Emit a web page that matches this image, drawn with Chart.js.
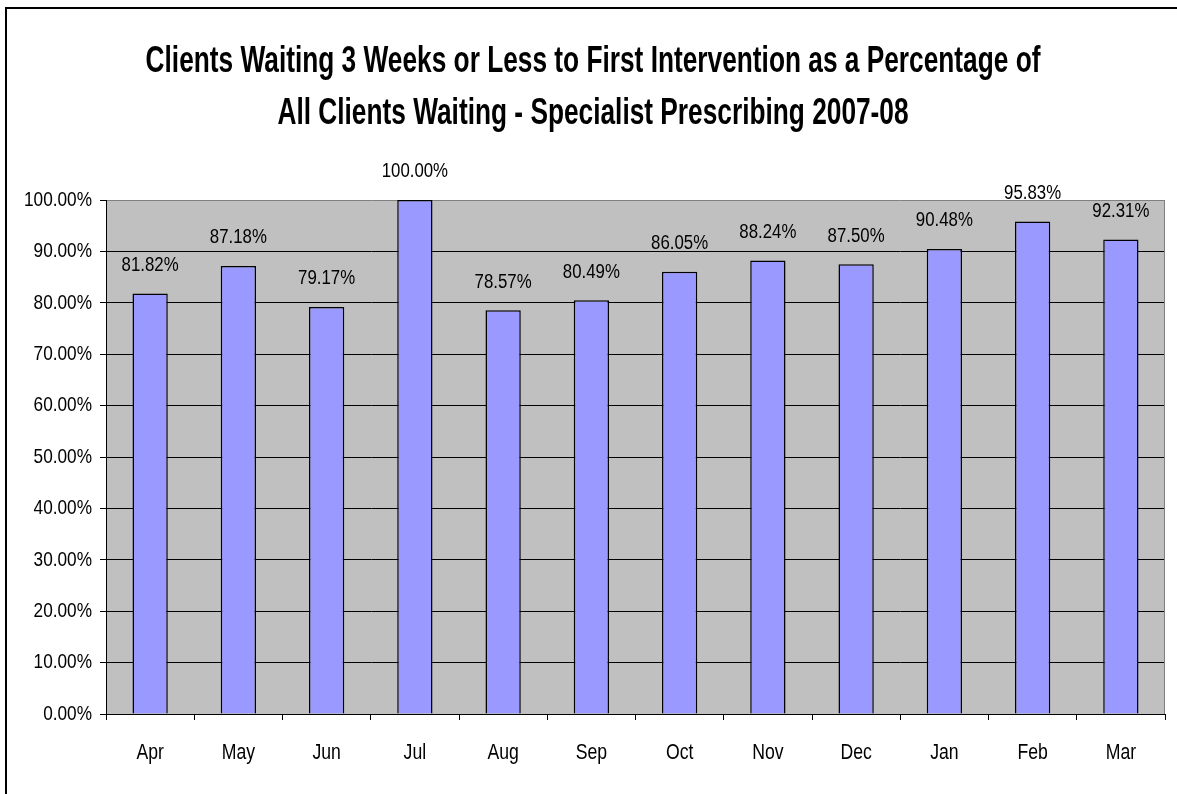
<!DOCTYPE html>
<html>
<head>
<meta charset="utf-8">
<script src="https://cdn.jsdelivr.net/npm/chart.js@4"></script>
<style>
  html, body { margin: 0; padding: 0; background: #fff; }
  #wrap { position: relative; width: 1177px; height: 794px; overflow: hidden; }
  #frame { position: absolute; left: 5px; top: 7px; width: 1300px; height: 900px; border: 2px solid #000; pointer-events: none; }
  canvas { position: absolute; left: 0; top: 0; }
</style>
</head>
<body>
<div id="wrap">
  <div id="frame"></div>
  <canvas id="c" width="1177" height="794"></canvas>
</div>
<script>
const months = ['Apr','May','Jun','Jul','Aug','Sep','Oct','Nov','Dec','Jan','Feb','Mar'];
const percentWaiting = [81.82, 87.18, 79.17, 100.00, 78.57, 80.49, 86.05, 88.24, 87.50, 90.48, 95.83, 92.31];
const titleLines = ['Clients Waiting 3 Weeks or Less to First Intervention as a Percentage of', 'All Clients Waiting - Specialist Prescribing 2007-08'];

const FONT = "'Liberation Sans Narrow', 'Arial Narrow', 'Liberation Sans', Arial, sans-serif";
// horizontal text compression to mimic the condensed Arial Narrow look
const narrowFor = font => /bold/.test(font) ? 0.71 : 0.82;

const canvas = document.getElementById('c');
const c2d = canvas.getContext('2d');
const origFill = c2d.fillText.bind(c2d);
const origMeasure = c2d.measureText.bind(c2d);
c2d.fillText = function (t, x, y, maxW) {
  const k = narrowFor(this.font);
  this.save();
  this.translate(x, y);
  this.scale(k, 1);
  origFill(t, 0, 0);
  this.restore();
};
c2d.measureText = function (t) {
  const k = narrowFor(this.font);
  const m = origMeasure(t);
  return {
    width: m.width * k,
    actualBoundingBoxAscent: m.actualBoundingBoxAscent,
    actualBoundingBoxDescent: m.actualBoundingBoxDescent,
    actualBoundingBoxLeft: m.actualBoundingBoxLeft * k,
    actualBoundingBoxRight: m.actualBoundingBoxRight * k,
    fontBoundingBoxAscent: m.fontBoundingBoxAscent,
    fontBoundingBoxDescent: m.fontBoundingBoxDescent
  };
};

const plotBg = {
  id: 'plotBg',
  beforeDraw(chart) {
    const {ctx, chartArea: a} = chart;
    ctx.save();
    ctx.fillStyle = '#C0C0C0';
    ctx.fillRect(a.left, a.top, a.right - a.left, a.bottom - a.top);
    ctx.restore();
  },
  afterDraw(chart) {
    const {ctx, chartArea: a} = chart;
    ctx.save();
    ctx.strokeStyle = '#808080';
    ctx.lineWidth = 1;
    ctx.beginPath();
    ctx.moveTo(a.right - 0.5, a.top);
    ctx.lineTo(a.right - 0.5, a.bottom);
    ctx.stroke();
    ctx.restore();
  }
};

const valueLabels = {
  id: 'valueLabels',
  afterDatasetsDraw(chart) {
    const {ctx} = chart;
    const meta = chart.getDatasetMeta(0);
    ctx.save();
    ctx.font = '20.5px ' + FONT;
    ctx.fillStyle = '#000';
    ctx.textAlign = 'center';
    ctx.textBaseline = 'bottom';
    meta.data.forEach((bar, i) => {
      ctx.fillText(percentWaiting[i].toFixed(2) + '%', bar.x, bar.y - 18);
    });
    ctx.restore();
  }
};

new Chart(canvas, {
  type: 'bar',
  data: {
    labels: months,
    datasets: [{
      data: percentWaiting,
      backgroundColor: '#9999FF',
      borderColor: '#000',
      borderWidth: 1.5,
      barPercentage: 0.4,
      categoryPercentage: 1.0
    }]
  },
  options: {
    responsive: false,
    animation: false,
    layout: { padding: { left: 21, right: 12, top: 0, bottom: 0 } },
    plugins: {
      legend: { display: false },
      tooltip: { enabled: false },
      title: {
        display: true,
        text: titleLines,
        color: '#000',
        font: { family: FONT, size: 37, weight: 'bold', lineHeight: '52px' },
        padding: { top: 36, bottom: 60 }
      }
    },
    scales: {
      x: {
        grid: { display: true, drawOnChartArea: false, drawTicks: true, tickLength: 6, tickColor: '#000', offset: true },
        border: { color: '#000', width: 1 },
        ticks: { color: '#000', font: { family: FONT, size: 21.5 }, padding: 20 },
        afterFit(scale) { scale.height = 80; }
      },
      y: {
        min: 0, max: 100,
        ticks: { stepSize: 10, color: '#000', font: { family: FONT, size: 21 }, padding: 8,
          callback: v => v.toFixed(2) + '%' },
        grid: {
          color: ctx => (ctx.tick && ctx.tick.value === 100) ? '#808080' : '#000',
          tickColor: '#000', tickLength: 6, lineWidth: 1
        },
        border: { color: '#000', width: 1 },
        afterFit(scale) { scale.width = 85; }
      }
    }
  },
  plugins: [plotBg, valueLabels]
});
</script>
</body>
</html>
